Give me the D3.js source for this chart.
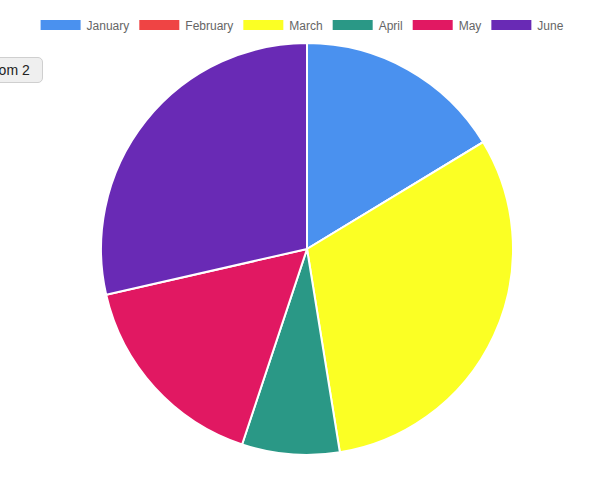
<!DOCTYPE html>
<html>
<head>
<meta charset="utf-8">
<script src="https://cdn.jsdelivr.net/npm/d3@7"></script>
<style>
  body { margin: 0; background: #fff; font-family: "Liberation Sans", Arial, sans-serif; }
  .zoom-btn { position: absolute; left: -31px; top: 57px; height: 26px; width: 74px; box-sizing: border-box;
    border: 1px solid #cfcfcf; border-radius: 5px; background: #efefef;
    font: 14px "Liberation Sans", Arial, sans-serif; color: #222; line-height: 24px; text-align: center; }
</style>
</head>
<body>
<div class="canvas" style="position:relative;width:602px;height:478px;overflow:hidden;"></div>
<script>
// data
const months = ['January', 'February', 'March', 'April', 'May', 'June'];
const values = [32, 0, 61, 15, 32, 56];
const colors = ['#4a91ef', '#ef4444', '#fbff24', '#2a9886', '#e11862', '#692ab5'];

const width = 602, height = 478;
const cx = 307, cy = 249, radius = 206;

const svg = d3.select('.canvas')
    .append('svg')
    .attr('width', width)
    .attr('height', height)
    .style('position', 'absolute')
    .style('left', 0).style('top', 0);

// pie
const pie = d3.pie().sort(null).value(d => d.value);
const arc = d3.arc().innerRadius(0).outerRadius(radius);
const data = months.map((m, i) => ({name: m, value: values[i], color: colors[i]}));

const graph = svg.append('g').attr('transform', `translate(${cx},${cy})`);
graph.selectAll('path').data(pie(data)).join('path')
    .attr('d', arc)
    .attr('fill', d => d.data.color)
    .attr('stroke', '#fff')
    .attr('stroke-width', 2)
    .attr('stroke-linejoin', 'bevel');

// legend, centred like chart.js
const legend = svg.append('g');
const items = legend.selectAll('g').data(data).join('g');
items.append('rect')
    .attr('width', 40).attr('height', 10)
    .attr('fill', d => d.color);
items.append('text')
    .attr('x', 46).attr('y', 9.5)
    .attr('font-size', 12)
    .attr('fill', '#666')
    .text(d => d.name);

let widths = [];
items.each(function() { widths.push(46 + this.querySelector('text').getComputedTextLength()); });
const total = d3.sum(widths) + 10 * (widths.length - 1);
let x = (width - total) / 2 + 1;
items.attr('transform', (d, i) => {
    const t = `translate(${x},20)`;
    x += widths[i] + 10;
    return t;
});

// button that sits half off the page on the left
d3.select('.canvas').append('div').attr('class', 'zoom-btn').text('Zoom 2');
</script>
</body>
</html>
